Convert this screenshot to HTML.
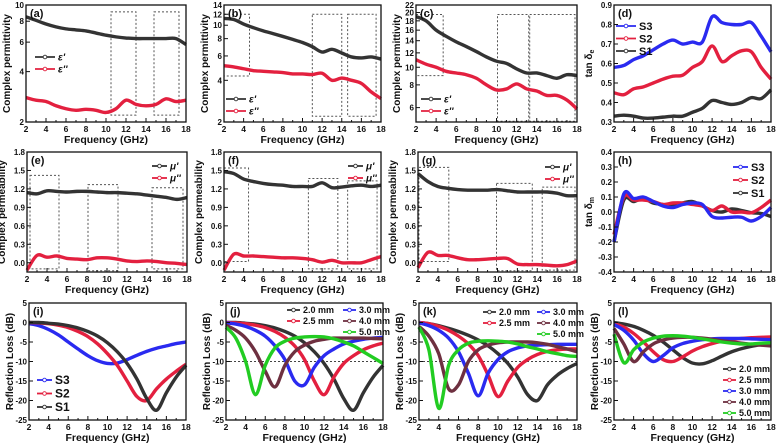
<!DOCTYPE html>
<html><head><meta charset="utf-8"><style>
body{margin:0;background:#fff}
svg{display:block;font-family:"Liberation Sans",Arial,sans-serif;font-weight:bold}
</style></head><body>
<svg id="fig" width="778" height="448" viewBox="0 0 778 448" xmlns="http://www.w3.org/2000/svg"></svg>
<script>
const freq=[2,3,4,5,6,7,8,9,10,11,12,13,14,15,16,17,18];
const xTicks=[2,4,6,8,10,12,14,16,18];
// (a)
const aEp=[8.5,8.1,7.7,7.4,7.2,7.1,7.0,6.8,6.6,6.45,6.35,6.3,6.3,6.3,6.3,6.3,5.8];
const aEpp=[2.8,2.7,2.65,2.5,2.4,2.35,2.38,2.35,2.28,2.4,2.7,2.55,2.5,2.55,2.75,2.65,2.7];
// (b)
const bEp=[11.2,11.0,10.2,9.6,9.1,8.7,8.3,7.9,7.5,7.0,6.4,6.7,6.3,5.9,5.8,5.9,5.7];
const bEpp=[5.1,5.0,4.85,4.7,4.65,4.6,4.55,4.45,4.45,4.4,4.5,4.0,4.15,4.0,3.8,3.3,2.95];
// (c)
const cEp=[19,18,16,14.8,13.8,13,12.2,11.4,10.8,10.5,9.8,9.3,9.3,9.0,8.7,9.1,9.0];
const cEpp=[11,10.4,10,9.5,9.3,9.1,8.7,8.0,7.5,7.6,8.1,7.6,7.4,7.0,7.0,6.6,5.9];
// (d)
const dS3=[0.58,0.59,0.62,0.64,0.67,0.70,0.72,0.70,0.71,0.71,0.84,0.81,0.80,0.80,0.81,0.74,0.66];
const dS2=[0.45,0.44,0.47,0.48,0.50,0.52,0.535,0.54,0.58,0.61,0.69,0.61,0.64,0.665,0.66,0.58,0.52];
const dS1=[0.33,0.335,0.33,0.32,0.32,0.325,0.33,0.33,0.35,0.37,0.41,0.40,0.39,0.40,0.425,0.42,0.465];
// (e)
const eMp=[1.14,1.12,1.17,1.16,1.15,1.16,1.16,1.15,1.14,1.14,1.13,1.12,1.10,1.08,1.06,1.03,1.06];
const eMpp=[-0.12,0.12,0.09,0.11,0.07,0.06,0.05,0.08,0.08,0.06,0.03,0.02,0.03,0.02,0.0,-0.01,-0.03];
// (f)
const fMp=[1.48,1.45,1.36,1.32,1.29,1.27,1.26,1.24,1.24,1.24,1.30,1.22,1.23,1.25,1.26,1.24,1.26];
const fMpp=[-0.12,0.14,0.11,0.11,0.10,0.09,0.08,0.08,0.07,0.05,0.01,0.04,0.0,0.0,0.0,0.05,0.10];
// (g)
const gMp=[1.45,1.32,1.24,1.21,1.19,1.18,1.18,1.18,1.19,1.17,1.15,1.15,1.15,1.15,1.13,1.09,1.09];
const gMpp=[-0.08,0.17,0.12,0.12,0.08,0.05,0.05,0.06,0.07,0.07,-0.02,-0.03,-0.03,-0.04,-0.05,-0.03,0.03];
// (h)
const hS3=[-0.2,0.12,0.09,0.10,0.07,0.04,0.03,0.05,0.06,0.05,-0.03,-0.04,-0.035,-0.035,-0.06,-0.03,0.03];
const hS2=[-0.15,0.10,0.08,0.08,0.07,0.05,0.06,0.06,0.05,0.04,0.01,0.04,0.0,0.0,-0.005,0.03,0.08];
const hS1=[-0.2,0.08,0.07,0.09,0.06,0.05,0.04,0.06,0.07,0.04,0.01,0.0,0.02,0.01,-0.005,-0.01,-0.03];
// (i)
const iS3=[-0.3,-0.8,-1.8,-3.2,-5,-6.8,-8.5,-9.8,-10.5,-10.4,-9.5,-8.4,-7.4,-6.6,-6,-5.4,-5];
const iS2=[0,-0.1,-0.3,-0.7,-1.3,-2.3,-3.6,-5.5,-8,-11,-15,-19,-20,-17,-14.5,-12.5,-10.7];
const iS1=[0,0,-0.2,-0.4,-0.8,-1.4,-2.3,-3.5,-5.2,-7.5,-10.5,-14.5,-19.5,-22.5,-18,-14,-11];
// (j)
const j20=[0,0,-0.2,-0.4,-0.8,-1.4,-2.3,-3.5,-5.2,-7.5,-10.5,-14.5,-19.5,-22.5,-18,-14,-11];
const j25=[0,-0.1,-0.3,-0.7,-1.3,-2.3,-3.8,-6,-9.5,-15,-18.5,-14,-10.5,-8.5,-7,-6,-5.3];
const j30=[-0.1,-0.4,-1,-2,-3.5,-6,-9.5,-15,-16,-11.5,-8.5,-6.8,-5.5,-4.8,-4.3,-4,-3.8];
const j40=[-0.7,-2,-4,-7.5,-12.5,-16.5,-11,-7.5,-5.8,-4.8,-4.3,-4,-4,-4,-4,-4.1,-4.2];
const j50=[-1.2,-4,-10,-18.5,-11,-6.5,-4.8,-4,-3.7,-3.6,-3.7,-4.2,-5,-6,-7.5,-9,-10.5];
// (k)
const k20=[0,-0.3,-0.8,-1.5,-2.3,-3.3,-4.5,-6,-8,-10.5,-14,-18.5,-20,-16,-13.5,-11.8,-10.5];
const k25=[0,-0.3,-1,-2,-3.5,-5.5,-8.5,-13.5,-19,-15,-11.5,-9.5,-8.2,-7.4,-7,-6.8,-6.8];
const k30=[-0.1,-0.8,-2,-4,-7.5,-13,-18.8,-13,-9.5,-7.5,-6.5,-6,-5.8,-5.7,-5.6,-5.6,-5.6];
const k40=[-1,-3.5,-8,-17,-16,-10,-7,-5.8,-5.2,-5,-5,-5,-5.2,-5.6,-6.2,-6.8,-7.5];
const k50=[-1.2,-7,-22,-11,-7,-5.3,-4.8,-4.7,-4.8,-5,-5.5,-6.2,-6.8,-7.5,-8,-8.5,-8.7];
// (l)
const l20=[0,-0.4,-1,-2,-3.3,-5,-7,-9,-10.4,-10.6,-9.8,-8.6,-7.5,-6.7,-6.1,-5.7,-5.4];
const l25=[-0.3,-1.2,-2.8,-5,-7.5,-9.5,-10,-8.8,-7.3,-6.2,-5.4,-4.8,-4.4,-4.1,-3.9,-3.8,-3.7];
const l30=[-0.5,-2,-4.5,-8,-10,-8.5,-6.5,-5.4,-4.8,-4.4,-4.2,-4.1,-4.1,-4.1,-4.2,-4.3,-4.4];
const l40=[-1.5,-5.5,-10,-7.5,-5.5,-4.5,-4,-3.8,-3.8,-4,-4.3,-4.7,-5,-5.3,-5.6,-5.8,-6];
const l50=[-3,-10.3,-7,-5,-4,-3.5,-3.4,-3.5,-3.8,-4.2,-4.6,-5,-5.3,-5.5,-5.5,-5.3,-5.2];

const K='#333',R='#e3203f',B='#2a2af0',P='#6e3040',G='#22cc22';
const NS='http://www.w3.org/2000/svg';
const svg=document.getElementById('fig');
function mk(tag,attrs,parent){const e=document.createElementNS(NS,tag);for(const k in attrs)e.setAttribute(k,attrs[k]);(parent||svg).appendChild(e);return e;}
function txt(s,attrs,parent){const e=mk('text',attrs,parent);e.textContent=s;return e;}
function smooth(pts){let d='M'+pts[0][0]+','+pts[0][1];for(let i=0;i<pts.length-1;i++){const p0=pts[i-1]||pts[i],p1=pts[i],p2=pts[i+1],p3=pts[i+2]||p2;
d+=' C'+(p1[0]+(p2[0]-p0[0])/6)+','+(p1[1]+(p2[1]-p0[1])/6)+' '+(p2[0]-(p3[0]-p1[0])/6)+','+(p2[1]-(p3[1]-p1[1])/6)+' '+p2[0]+','+p2[1];}return d;}

const panels=[
 {id:'a',L:26,R:186,T:5,Bm:122,log:true,ymin:2,ymax:10,yt:[2,4,6,8,10],ylab:'Complex permittivity',series:[[aEp,K],[aEpp,R]],boxes:[[10.5,13,9.1,2.2],[14.8,17.3,9.1,2.2]],leg:{type:'eps',x:35,y:57}},
 {id:'b',L:224,R:381,T:5,Bm:122,log:true,ymin:2,ymax:14,yt:[2,4,6,8,10,12,14],ylab:'Complex permittivity',series:[[bEp,K],[bEpp,R]],boxes:[[2,4.6,12,4.3],[11,14,12,2.2],[14.6,17.5,12,2.2]],leg:{type:'eps',x:226,y:99}},
 {id:'c',L:416,R:577,T:5,Bm:122,log:true,ymin:5,ymax:22,yt:[6,8,10,12,14,16,18,20,22],ylab:'Complex permittivity',series:[[cEp,K],[cEpp,R]],boxes:[[2,4.7,19.5,9],[10.1,13.2,19.5,5.05],[13.3,17.8,19.5,5.05]],leg:{type:'eps',x:421,y:99}},
 {id:'d',L:614,R:771,T:5,Bm:122,ymin:0.3,ymax:0.9,yt:[0.3,0.4,0.5,0.6,0.7,0.8,0.9],fmt:1,ylab:'tan δ',sub:'e',series:[[dS3,B],[dS2,R],[dS1,K]],leg:{type:'S',x:616,y:26,dy:12.5}},
 {id:'e',L:27,R:187,T:152,Bm:272,ymin:-0.15,ymax:1.8,yt:[0,0.3,0.6,0.9,1.2,1.5,1.8],fmt:1,ylab:'Complex permeability',series:[[eMp,K],[eMpp,R]],boxes:[[2.3,5.2,1.42,-0.1],[8.1,11.1,1.27,-0.13],[14.5,17.6,1.22,-0.1]],leg:{type:'mu',x:152,y:166}},
 {id:'f',L:224,R:381,T:152,Bm:272,ymin:-0.15,ymax:1.8,yt:[0,0.3,0.6,0.9,1.2,1.5,1.8],fmt:1,ylab:'Complex permeability',series:[[fMp,K],[fMpp,R]],boxes:[[2,4.5,1.54,0.02],[10.6,13.6,1.37,-0.1],[14.6,17.6,1.33,-0.1]],leg:{type:'mu',x:348,y:166}},
 {id:'g',L:418,R:577,T:152,Bm:272,ymin:-0.15,ymax:1.8,yt:[0,0.3,0.6,0.9,1.2,1.5,1.8],fmt:1,ylab:'Complex permeability',series:[[gMp,K],[gMpp,R]],boxes:[[2.1,5.1,1.55,0.02],[9.9,13.5,1.29,-0.13],[14.5,17.8,1.23,-0.12]],leg:{type:'mu',x:545,y:167}},
 {id:'h',L:614,R:771,T:152,Bm:272,ymin:-0.4,ymax:0.4,yt:[-0.4,-0.3,-0.2,-0.1,0,0.1,0.2,0.3,0.4],fmt:1,ylab:'tan δ',sub:'m',series:[[hS1,K],[hS2,R],[hS3,B]],leg:{type:'S',x:733,y:167,dy:13}},
 {id:'i',L:29,R:186,T:303,Bm:420,ymin:-25,ymax:5,yt:[5,0,-5,-10,-15,-20,-25],ylab:'Reflection Loss (dB)',series:[[iS3,B],[iS2,R],[iS1,K]],leg:{type:'S',x:37,y:380,dy:13.5}},
 {id:'j',L:226,R:383,T:303,Bm:420,ymin:-25,ymax:5,yt:[5,0,-5,-10,-15,-20,-25],ylab:'Reflection Loss (dB)',series:[[j20,K],[j25,R],[j30,B],[j40,P],[j50,G]],dash:true,leg:{type:'mm2',x:287,x2:343,y:310}},
 {id:'k',L:419,R:577,T:303,Bm:420,ymin:-25,ymax:5,yt:[5,0,-5,-10,-15,-20,-25],ylab:'Reflection Loss (dB)',series:[[k20,K],[k25,R],[k30,B],[k40,P],[k50,G]],dash:true,leg:{type:'mm2',x:483,x2:537,y:312}},
 {id:'l',L:614,R:771,T:303,Bm:420,ymin:-25,ymax:5,yt:[5,0,-5,-10,-15,-20,-25],ylab:'Reflection Loss (dB)',series:[[l20,K],[l25,R],[l30,B],[l40,P],[l50,G]],leg:{type:'mm1',x:723,y:369,dy:11}}
];
const mmNames=['2.0 mm','2.5 mm','3.0 mm','4.0 mm','5.0 mm'];
const mmCols=[K,R,B,P,G];

panels.forEach(p=>{
 const g=mk('g',{});
 
 
 const xs=v=>p.L+(v-2)/16*(p.R-p.L);
 const ys=p.log?v=>p.Bm-(Math.log(v)-Math.log(p.ymin))/(Math.log(p.ymax)-Math.log(p.ymin))*(p.Bm-p.T)
               :v=>p.Bm-(v-p.ymin)/(p.ymax-p.ymin)*(p.Bm-p.T);
 // dashed boxes
 (p.boxes||[]).forEach(b=>{const r=mk('rect',{x:xs(b[0]),y:ys(b[2]),width:xs(b[1])-xs(b[0]),height:ys(b[3])-ys(b[2]),fill:'none',stroke:'#555','stroke-width':1,'stroke-dasharray':'2,2'},g);
  
  });
 if(p.dash){const l=mk('line',{x1:p.L,x2:p.R,y1:ys(-10),y2:ys(-10),stroke:'#444','stroke-width':1,'stroke-dasharray':'2,2'},g);
  
  }
 // series
 p.series.forEach((s,si)=>{const pts=s[0].map((v,i)=>[xs(freq[i]),ys(v)]);
  const path=mk('path',{d:smooth(pts),fill:'none',stroke:s[1],'stroke-width':3.4,'stroke-linejoin':'round'},g);
  
  });
 // frame
 const fr=mk('rect',{x:p.L,y:p.T,width:p.R-p.L,height:p.Bm-p.T,fill:'none',stroke:'#111','stroke-width':1.3},g);
 
 
 // x ticks
 for(let v=2;v<=18;v++){const x=xs(v);const len=(v%2==0)?4:2;
  mk('line',{x1:x,x2:x,y1:p.Bm,y2:p.Bm-len,stroke:'#111','stroke-width':1},g);}
 xTicks.forEach(v=>{const t=txt(String(v),{x:xs(v),y:p.Bm+10,'font-size':8.5,'text-anchor':'middle',fill:'#111'},g);
  
  });
 const xt=txt('Frequency (GHz)',{x:(p.L+p.R)/2,y:p.Bm+21,'font-size':10.5,'text-anchor':'middle',fill:'#111'},g);
 
 
 // y ticks
 p.yt.forEach(v=>{const y=ys(v);mk('line',{x1:p.L,x2:p.L+4,y1:y,y2:y,stroke:'#111','stroke-width':1},g);
  const s=p.fmt?v.toFixed(p.fmt):String(v);
  const t=txt(s,{x:p.L-2,y:y+3,'font-size':8,'text-anchor':'end',fill:'#111'},g);
  
  });
 const cy=(p.T+p.Bm)/2, cx=p.L-(p.fmt?22:16);
 const yt=txt(p.ylab,{x:cx,y:cy,'font-size':10,'text-anchor':'middle',fill:'#111',transform:`rotate(-90 ${cx} ${cy})`},g);
 if(p.sub){const ts=mk('tspan',{'font-size':7,dy:2},yt);ts.textContent=p.sub;}
 
 
 const pl=txt('('+p.id+')',{x:p.L+4,y:p.T+12,'font-size':11,fill:'#111'},g);
 
 
 // legend
 const lg=mk('g',{},g);
 
 
 const entry=(x,y,c,label,fs,len,ital)=>{mk('line',{x1:x,x2:x+len,y1:y,y2:y,stroke:c,'stroke-width':1.8},lg);
  mk('circle',{cx:x+len/2,cy:y,r:1.8,fill:'#fff',stroke:c,'stroke-width':0.9},lg);
  const t=txt(label,{x:x+len+3,y:y+fs*0.35,'font-size':fs,fill:'#111','font-style':ital?'italic':'normal'},lg);
  
  };
 const L=p.leg;
 if(L.type=='eps'){entry(L.x,L.y,K,'ε\'',10,20,true);entry(L.x,L.y+12,R,'ε\'\'',10,20,true);}
 if(L.type=='mu'){entry(L.x,L.y,K,'μ\'',10,15,true);entry(L.x,L.y+12,R,'μ\'\'',10,15,true);}
 if(L.type=='S'){const cols=p.id=='h'?[B,R,K]:(p.id=='d'?[B,R,K]:[B,R,K]);
  ['S3','S2','S1'].forEach((n,i)=>entry(L.x,L.y+i*L.dy,cols[i],n,p.id=='i'?12:11,p.id=='d'?20:15));}
 if(L.type=='mm2'){entry(L.x,L.y,K,mmNames[0],9,13);entry(L.x2,L.y,B,mmNames[2],9,13);
  entry(L.x,L.y+11,R,mmNames[1],9,13);entry(L.x2,L.y+11,P,mmNames[3],9,13);entry(L.x2,L.y+22,G,mmNames[4],9,13);}
 if(L.type=='mm1'){mmNames.forEach((n,i)=>entry(L.x,L.y+i*L.dy,mmCols[i],n,9,13));}
});
</script>
</body></html>
